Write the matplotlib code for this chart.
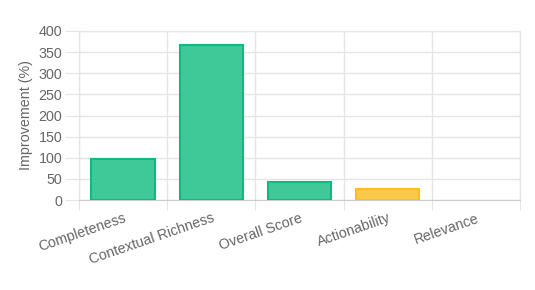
import matplotlib.pyplot as plt
import numpy as np

categories = ["Completeness", "Contextual Richness", "Overall Score", "Actionability", "Relevance"]
values = [98, 366, 42, 27, 0]
fills = ["#3fc898", "#3fc898", "#3fc898", "#fbc94a", "#fbc94a"]
edges = ["#10b981", "#10b981", "#10b981", "#fbbf24", "#fbbf24"]

plt.rcParams['font.family'] = ['Liberation Sans', 'DejaVu Sans']

fig = plt.figure(figsize=(5.35, 2.9), dpi=100)
ax = fig.add_axes([79 / 535, 1 - 200 / 290, 441 / 535, 169 / 290])

x = np.arange(len(categories))
# zero-height bars get no border (chart.js draws nothing there)
lws = [1.5 if v > 0 else 0 for v in values]
ax.bar(x, values, width=0.72, color=fills, edgecolor=edges, linewidth=lws, zorder=3)

ax.set_xlim(-0.5, len(categories) - 0.5)
ax.set_ylim(0, 400)
ax.set_yticks(range(0, 401, 50))

# grid on category boundaries, like chart.js
ax.set_xticks(np.arange(-0.5, len(categories)), minor=False)
ax.set_xticklabels([])
ax.set_xticks(x, minor=True)
ax.set_xticklabels(categories, minor=True, rotation=19, ha='right', rotation_mode='anchor',
                   color='#666666', fontsize=10.3)
ax.tick_params(axis='x', which='major', length=7, color='#e5e5e5')
ax.tick_params(axis='x', which='minor', length=0, pad=8)
ax.tick_params(axis='y', length=10, color='#e5e5e5', labelcolor='#666666', labelsize=10.3, pad=2)

ax.grid(True, which='major', color='#e5e5e5', linewidth=1, zorder=0)
for s in ['left', 'top', 'right']:
    ax.spines[s].set_color('#e5e5e5')
ax.spines['bottom'].set_color('#cccccc')

ax.set_ylabel("Improvement (%)", color='#666666', fontsize=10.3, labelpad=4)

fig.savefig("out.png", dpi=100)
